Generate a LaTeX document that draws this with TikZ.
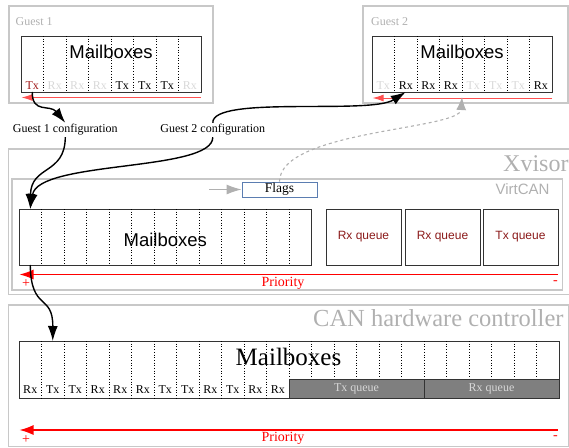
\documentclass[tikz,border=0pt]{standalone}
\usepackage{fontspec}
\setmainfont{Liberation Serif}
\newfontfamily\sansf{Liberation Sans}
\usetikzlibrary{arrows.meta,calc}
\definecolor{framegray}{HTML}{C8C8C8}
\definecolor{labelgray}{HTML}{B0B0B0}
\definecolor{faint}{HTML}{D8D8D8}
\definecolor{qred}{HTML}{8B1A1A}
\definecolor{txred}{HTML}{A01818}
\definecolor{flagblue}{HTML}{5B7DB1}
\definecolor{hwgray}{HTML}{7F7F7F}
\definecolor{lightred}{HTML}{FF5050}
\newcommand{\fsz}[1]{\fontsize{#1}{#1}\selectfont}
\tikzset{
  frame/.style={draw=framegray, line width=1.3pt},
  mbox/.style={draw=black!80, line width=0.9pt, inner sep=0pt, outer sep=0pt, anchor=north west},
  divider/.style={dotted, line width=0.7pt},
  slotlbl/.style={inner sep=0pt, font=\fsz{12}},
  grouplbl/.style={text=labelgray, inner sep=0pt},
  cfglbl/.style={inner sep=1.5pt, font=\fsz{12}},
  cfgarrow/.style={line width=1.4pt, -{Latex[length=15pt,width=10pt]}},
  prioarrow/.style={red, line width=1.3pt, -{Latex[length=14pt,width=10pt]}},
  guestprio/.style={lightred, line width=1pt, -{Latex[length=11pt,width=7pt]}},
  qbox/.style={draw=black!80, line width=0.9pt, minimum width=75pt, minimum height=56pt,
    inner sep=0pt, outer sep=0pt, anchor=north west, text=qred, font=\sansf\fsz{12}},
  prio/.style={red, inner sep=0pt, font=\fsz{14}},
}
\begin{document}
\begin{tikzpicture}[x=1pt,y=-1pt]
\useasboundingbox (0,0) rectangle (569,447);
\clip (0,0) rectangle (569,447);

% ---------------- Guest 1 ----------------
\draw[frame] (9,6) rectangle (213,103);
\node[grouplbl, anchor=base west, font=\fsz{12}] (g1lbl) at (15.5,25) {Guest 1};
\node[mbox, minimum width=180pt, minimum height=56pt] (g1mb) at (21,36) {};
\foreach \i in {1,...,7}
  \draw[divider] ($(g1mb.north west)+(22.5*\i,0)$) -- ($(g1mb.south west)+(22.5*\i,0)$);
\node[anchor=base, inner sep=0pt, font=\sansf\fsz{18.5}] (g1title) at (111,58.3) {Mailboxes};
\foreach \t/\c [count=\i from 0] in {Tx/txred,Rx/faint,Rx/faint,Rx/faint,Tx/black,Tx/black,Tx/black,Rx/faint}
  \node[slotlbl, text=\c] at ($(g1mb.south west)+(22.5*\i+11.25,-6)$) {\t};
\coordinate (g1pa) at (201,97.5);
\coordinate (g1pb) at (21.5,97.5);
\draw[guestprio] (g1pa) -- (g1pb);
\coordinate (g1tx) at ($(g1mb.south west)+(11.25,0)$);

% ---------------- Guest 2 ----------------
\draw[frame] (363,6) rectangle (568,103);
\node[grouplbl, anchor=base west, font=\fsz{12}] (g2lbl) at (371,25) {Guest 2};
\node[mbox, minimum width=180pt, minimum height=56pt] (g2mb) at (372,36) {};
\foreach \i in {1,...,7}
  \draw[divider] ($(g2mb.north west)+(22.5*\i,0)$) -- ($(g2mb.south west)+(22.5*\i,0)$);
\node[anchor=base, inner sep=0pt, font=\sansf\fsz{18.5}] (g2title) at (462,58.3) {Mailboxes};
\foreach \t/\c [count=\i from 0] in {Tx/faint,Rx/black,Rx/black,Rx/black,Tx/faint,Tx/faint,Tx/faint,Rx/black}
  \node[slotlbl, text=\c] at ($(g2mb.south west)+(22.5*\i+11.25,-6)$) {\t};
\coordinate (g2pa) at (552,98);
\coordinate (g2pb) at (372.5,98);
\draw[guestprio] (g2pa) -- (g2pb);
\coordinate (g2rx) at ($(g2mb.south west)+(33.75,0)$);
\coordinate (g2mid) at (462,97);

% ---------------- Xvisor / VirtCAN ----------------
\draw[frame] (8.5,149) rectangle (580,294.5);
\node[grouplbl, anchor=base west, font=\fsz{24}] (xvlbl) at (503,171) {Xvisor};
\draw[frame] (12,179) rectangle (562.5,290);
\node[grouplbl, anchor=base, font=\sansf\fsz{15}] (vclbl) at (522.5,194.5) {VirtCAN};

\node[draw=flagblue, line width=0.9pt, minimum width=75pt, minimum height=15pt,
      inner sep=0pt, font=\fsz{13.5}] (flags) at (279.5,189.5) {Flags};
\coordinate (flagsin) at (209,189.5);
\draw[draw=labelgray, line width=1pt, -{Latex[length=15pt,width=10pt]}] (flagsin) -- (flags.west);

\node[mbox, minimum width=292.5pt, minimum height=56pt] (vcmb) at (19,209) {};
\foreach \i in {1,...,12}
  \draw[divider] ($(vcmb.north west)+(22.5*\i,0)$) -- ($(vcmb.south west)+(22.5*\i,0)$);
\node[anchor=base, inner sep=0pt, font=\sansf\fsz{18.5}] (vctitle) at (165.25,246) {Mailboxes};
\coordinate (vc1top) at ($(vcmb.north west)+(11.25,0)$);
\coordinate (vc1bot) at ($(vcmb.south west)+(11.25,0)$);

\node[qbox] (rxq1) at (326,209) {Rx queue};
\node[qbox] (rxq2) at (405,209) {Rx queue};
\node[qbox] (txq)  at (483,209) {Tx queue};

\coordinate (vcpa) at (558,274.5);
\coordinate (vcpb) at (19.5,274.5);
\draw[prioarrow] (vcpa) -- (vcpb);
\node[prio] (vcplus) at (26,283.5) {+};
\node[prio] (vcprio) at (283,283) {Priority};
\node[prio] (vcminus) at (555.5,282.5) {-};

% ---------------- CAN hardware controller ----------------
\draw[frame] (8.5,305) rectangle (568.5,446.5);
\node[grouplbl, anchor=base west, font=\fsz{24.5}] (canlbl) at (313,326.5) {CAN hardware controller};

\node[mbox, minimum width=540pt, minimum height=57pt] (canmb) at (19,341) {};
\foreach \i in {1,...,12}
  \draw[divider] ($(canmb.north west)+(22.5*\i,0)$) -- ($(canmb.south west)+(22.5*\i,0)$);
\foreach \i in {13,...,23}
  \draw[divider] ($(canmb.north west)+(22.5*\i,0)$) -- ($(canmb.north west)+(22.5*\i,38)$);
\node[anchor=base, inner sep=0pt, font=\fsz{25}] (cantitle) at (288.5,365) {Mailboxes};
\foreach \t [count=\i from 0] in {Rx,Tx,Tx,Rx,Rx,Rx,Tx,Tx,Rx,Tx,Rx,Rx}
  \node[slotlbl] at ($(canmb.south west)+(22.5*\i+11.25,-8)$) {\t};
\draw[draw=black!80, line width=0.9pt, fill=hwgray] (289,379) rectangle (559,398);
\draw[black!80, line width=0.9pt] (424,379) -- (424,398);
\node[inner sep=0pt, text=faint, font=\fsz{12}] (hwtx) at (356.5,388.5) {Tx queue};
\node[inner sep=0pt, text=faint, font=\fsz{12}] (hwrx) at (491.5,389) {Rx queue};
\coordinate (can2top) at ($(canmb.north west)+(33.75,0)$);

\coordinate (canpa) at (558,430);
\coordinate (canpb) at (19.5,430);
\draw[prioarrow] (canpa) -- (canpb);
\node[prio] (canplus) at (26,440) {+};
\node[prio] (canprio) at (283,438.5) {Priority};
\node[prio] (canminus) at (555.5,438) {-};

% ---------------- configuration paths ----------------
\node[cfglbl] (cfg1) at (65.3,130) {Guest 1 configuration};
\node[cfglbl] (cfg2) at (212.8,130) {Guest 2 configuration};

\draw[cfgarrow] (g1tx) .. controls (32,114) and (50,104) .. (cfg1.north);
\draw[cfgarrow] (cfg1.south) .. controls (65,175) and (31,165) .. (vc1top);
\draw[cfgarrow] (cfg2.south) .. controls (213,172) and (38,160) .. (vc1top);
\draw[cfgarrow] (cfg2.north) .. controls (212,95) and (370,115) .. (g2rx);
\draw[cfgarrow] (vc1bot) .. controls (31,312) and (53,293) .. (can2top);

\draw[draw=labelgray, line width=1.1pt, dashed, dash pattern=on 3pt off 3pt,
      -{Latex[length=13pt,width=10pt]}]
  (flags.north) .. controls (280,130) and (460,130) .. (g2mid);
\end{tikzpicture}
\end{document}
